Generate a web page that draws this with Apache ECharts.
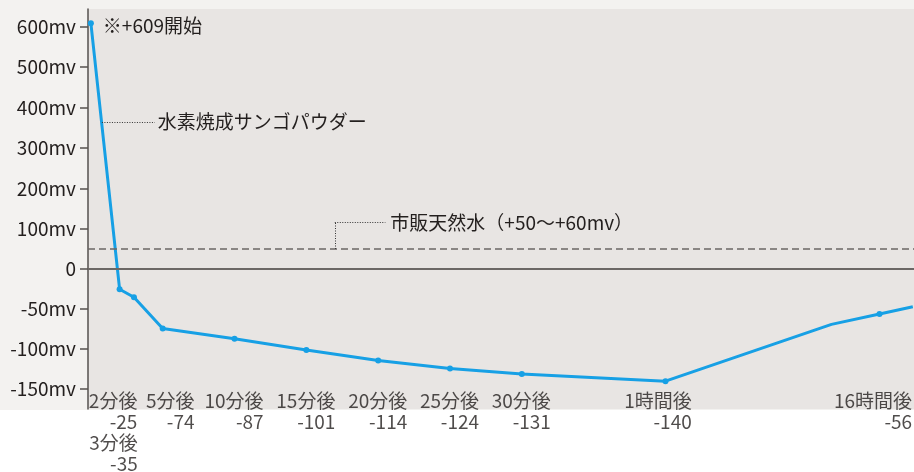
<!DOCTYPE html>
<html>
<head>
<meta charset="utf-8">
<script src="https://cdn.jsdelivr.net/npm/echarts@6/dist/echarts.min.js"></script>
<style>
body{margin:0;}
#chart{width:914px;height:472px;background:linear-gradient(to bottom,#f3f2f0 0,#f3f2f0 410px,#fff 410px);}
</style>
</head>
<body>
<div id="chart"></div>
<script>
// 測定時間(分)とORP値(mv)
const timeMin = [0, 2, 3, 5, 10, 15, 20, 25, 30, 60, 758, 960, 1100];
const orpMv = [609, -25, -35, -74, -87, -101, -114, -124, -131, -140, -69, -56, -47];

// 横軸の目盛り
const labelTimes = [2, 3, 5, 10, 15, 20, 25, 30, 60, 960];
const labelNames = ['2分後', '3分後', '5分後', '10分後', '15分後', '20分後', '25分後', '30分後', '1時間後', '16時間後'];

// 縦軸の目盛り
const yTicks = [-150, -100, -50, 0, 100, 200, 300, 400, 500, 600];

// 市販天然水の基準
const tapWaterMv = 50;

// 横軸は区間ごとに縮尺が違う (分 → 軸単位)
const timeKnots = [0, 30, 60, 960];
const axisKnots = [0, 30, 40, 54.9];

function xPos(t) {
  let i = 0;
  while (i < timeKnots.length - 2 && t > timeKnots[i + 1]) i++;
  const r = (t - timeKnots[i]) / (timeKnots[i + 1] - timeKnots[i]);
  return axisKnots[i] + r * (axisKnots[i + 1] - axisKnots[i]);
}
// マイナス側は縦方向に約2倍
const NEG = 1.98;
function yPos(v) { return v < 0 ? v * NEG : v; }
function yInv(u) { return u < 0 ? Math.round(u / NEG) : Math.round(u); }

const FONT = '"Noto Sans CJK JP", sans-serif';
const FS = 19;
const TXT = '#231f1e';
const GRAY = '#6b6765';

const ctx = document.createElement('canvas').getContext('2d');
ctx.font = FS + 'px ' + FONT;
function textW(s) { return ctx.measureText(s).width; }

// ラベル位置の微調整
const labelTweak = {
  '2分後': { shift: -6, row: 0 },
  '3分後': { shift: -20, row: 1 },
  '5分後': { shift: 8, row: 0 },
  '1時間後': { shift: -7, row: 0 },
  '16時間後': { shift: -6, row: 0 }
};

var chartDom = document.getElementById('chart');
var myChart = echarts.init(chartDom);
var option;

const lineData = timeMin.map((t, i) => {
  const item = {
    value: [xPos(t), yPos(orpMv[i])],
    symbol: (t === 0 || labelTimes.includes(t)) ? 'circle' : 'none'
  };
  if (i === 0) {
    item.label = {
      show: true,
      position: 'right',
      distance: 9,
      offset: [0, 3],
      formatter: '※+' + orpMv[0] + '開始'
    };
  }
  return item;
});

const labelData = labelTimes.map((t, i) => {
  const name = labelNames[i];
  const tw = labelTweak[name] || { shift: 0, row: 0 };
  return {
    value: [xPos(t), -340],
    name: name + '\n' + orpMv[timeMin.indexOf(t)],
    label: { position: [textW(name) / 2 + tw.shift, -16 + tw.row * 42] }
  };
});

option = {
  animation: false,
  textStyle: { fontFamily: FONT },
  grid: {
    left: 88, right: 0, top: 9, bottom: 63,
    show: true, backgroundColor: '#e8e5e3', borderWidth: 0
  },
  xAxis: {
    type: 'value', min: -0.2, max: 57.3, show: false
  },
  yAxis: {
    type: 'value', min: -346, max: 644,
    splitLine: { show: false },
    axisLine: { show: true, onZero: false, lineStyle: { color: '#55514f', width: 1.5 } },
    axisTick: { show: true, length: 8, customValues: yTicks.map(yPos), lineStyle: { color: '#55514f', width: 1.5 } },
    axisLabel: {
      customValues: yTicks.map(yPos),
      margin: 12, fontSize: FS, color: TXT,
      formatter: function (u) { const v = yInv(u); return v === 0 ? '0' : v + 'mv'; }
    }
  },
  series: [
    {
      name: 'ORP',
      type: 'line',
      data: lineData,
      symbolSize: 6,
      itemStyle: { color: '#17a0e5' },
      lineStyle: { color: '#17a0e5', width: 3 },
      label: { color: TXT, fontSize: FS },
      z: 3,
      markLine: {
        silent: true,
        symbol: ['none', 'none'],
        label: { show: false },
        data: [
          { yAxis: 0, lineStyle: { color: GRAY, width: 2, type: 'solid' } },
          { yAxis: yPos(tapWaterMv), lineStyle: { color: GRAY, width: 1.5, type: [7, 4] } },
          [
            {
              coord: [0.77, 364],
              lineStyle: { color: '#333', width: 1, type: [1, 1.5] },
              label: { show: true, position: 'end', distance: 3, formatter: '水素焼成サンゴパウダー', color: TXT, fontSize: FS }
            },
            { coord: [4.45, 364] }
          ],
          [
            { coord: [16.98, yPos(tapWaterMv)], lineStyle: { color: '#333', width: 1, type: [1, 1.5] } },
            { coord: [16.98, 116] }
          ],
          [
            {
              coord: [16.98, 116],
              lineStyle: { color: '#333', width: 1, type: [1, 1.5] },
              label: { show: true, position: 'end', distance: 5, formatter: '市販天然水（+' + tapWaterMv + '〜+60mv）', color: TXT, fontSize: FS }
            },
            { coord: [20.5, 116] }
          ]
        ]
      }
    },
    {
      name: 'xlabels',
      type: 'scatter',
      data: labelData,
      symbolSize: 1,
      silent: true,
      clip: false,
      itemStyle: { color: 'rgba(0,0,0,0)' },
      z: 4,
      label: {
        show: true,
        formatter: '{b}',
        align: 'right',
        verticalAlign: 'top',
        lineHeight: 21,
        fontSize: FS,
        color: TXT
      }
    }
  ]
};

option && myChart.setOption(option);
</script>
</body>
</html>
